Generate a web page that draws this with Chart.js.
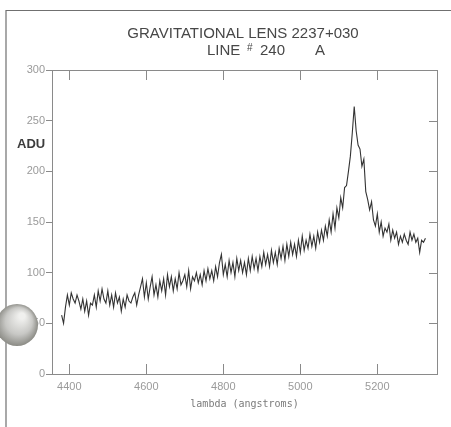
<!DOCTYPE html>
<html>
<head>
<meta charset="utf-8">
<script src="https://cdn.jsdelivr.net/npm/chart.js@4"></script>
<style>
  html, body { margin: 0; padding: 0; background: #ffffff; }
  canvas { display: block; }
</style>
</head>
<body>
<canvas id="specChart" width="451" height="427"></canvas>
<script>
// wavelength grid of the spectrum (angstroms)
const lambdaStart = 4380;
const lambdaStep = 5;

// ADU values, one per 5 A from 4380
const adu = [
  58, 50, 66, 78, 68, 80, 74, 70, 78, 72,
  64, 74, 62, 72, 58, 70, 68, 78, 66, 82,
  72, 84, 74, 70, 82, 68, 78, 66, 80, 70,
  76, 62, 74, 66, 78, 72, 70, 76, 80, 68,
  78, 86, 94, 76, 90, 74, 86, 96, 78, 88,
  76, 92, 82, 94, 78, 98, 86, 96, 82, 94,
  84, 100, 88, 92, 98, 86, 102, 84, 96, 92,
  100, 90, 98, 88, 102, 92, 104, 94, 102, 92,
  106, 96, 110, 118, 98, 108, 96, 112, 100, 110,
  96, 114, 102, 112, 100, 110, 98, 114, 102, 116,
  104, 114, 102, 116, 106, 120, 108, 118, 106, 122,
  110, 120, 108, 124, 114, 126, 112, 128, 116, 130,
  118, 128, 116, 132, 120, 136, 122, 132, 124, 138,
  126, 136, 124, 140, 130, 142, 132, 146, 136, 152,
  140, 158, 144, 164, 154, 174, 164, 184, 186, 200,
  215, 238, 264, 240, 226, 222, 205, 212, 180, 172,
  162, 170, 152, 146, 158, 140, 150, 136, 144, 140,
  148, 132, 142, 134, 140, 128, 136, 130, 138, 132,
  128, 140, 132, 138, 130, 134, 120, 132, 130, 134
];

const xTicks = [4400, 4600, 4800, 5000, 5200];
const yTicks = [0, 50, 100, 150, 200, 250, 300];

const titleLine1 = 'GRAVITATIONAL LENS 2237+030';
const yTitle = 'ADU';
const xTitle = 'lambda (angstroms)';

const points = adu.map((v, i) => ({ x: lambdaStart + i * lambdaStep, y: v }));

// box frame with inward ticks, titles and the page decorations
const framePlugin = {
  id: 'frame',
  afterDraw(chart) {
    const c = chart.ctx;
    const a = chart.chartArea;
    const xs = chart.scales.x, ys = chart.scales.y;
    c.save();

    // page edge lines
    c.strokeStyle = '#707070';
    c.lineWidth = 1.2;
    c.beginPath();
    c.moveTo(6, 427); c.lineTo(6, 10.5); c.lineTo(451, 10.5);
    c.stroke();

    // plot box
    c.strokeStyle = '#8a8a8a';
    c.lineWidth = 1;
    c.strokeRect(Math.round(a.left) + 0.5, Math.round(a.top) + 0.5,
                 Math.round(a.right - a.left), Math.round(a.bottom - a.top));

    c.beginPath();
    xTicks.forEach(v => {
      const px = Math.round(xs.getPixelForValue(v)) + 0.5;
      c.moveTo(px, a.top); c.lineTo(px, a.top + 10);
      c.moveTo(px, a.bottom); c.lineTo(px, a.bottom - 10);
    });
    yTicks.slice(1, -1).forEach(v => {
      const py = Math.round(ys.getPixelForValue(v)) + 0.5;
      c.moveTo(a.right, py); c.lineTo(a.right - 8, py);
    });
    c.stroke();

    // titles
    c.fillStyle = '#474747';
    c.textBaseline = 'middle';
    c.textAlign = 'center';
    c.font = '15px "Liberation Sans", Arial, sans-serif';
    c.fillText(titleLine1, 243, 34);
    c.textAlign = 'left';
    c.fillText('LINE', 207, 51);
    c.fillText('240', 260, 51);
    c.fillText('A', 315, 51);
    c.font = '10px "Liberation Sans", Arial, sans-serif';
    c.fillText('#', 247, 48);

    c.font = 'bold 13px "Liberation Sans", Arial, sans-serif';
    c.fillStyle = '#3c3c3c';
    c.fillText(yTitle, 17, 144);

    // the punched-hole shadow at the left edge
    const g = c.createRadialGradient(22, 316, 3, 16, 326, 24);
    g.addColorStop(0, '#f0f0ee');
    g.addColorStop(0.5, '#c8c8c5');
    g.addColorStop(1, '#76766f');
    c.fillStyle = g;
    c.beginPath();
    c.arc(17, 325, 21, 0, Math.PI * 2);
    c.fill();

    c.restore();
  }
};

const ctx = document.getElementById('specChart').getContext('2d');
new Chart(ctx, {
  type: 'line',
  data: {
    datasets: [{
      data: points,
      borderColor: '#333333',
      borderWidth: 1.1,
      pointRadius: 0,
      tension: 0,
      fill: false
    }]
  },
  options: {
    responsive: false,
    animation: false,
    layout: { padding: { top: 70, right: 14, left: 0, bottom: 0 } },
    plugins: {
      legend: { display: false },
      tooltip: { enabled: false },
      title: { display: false }
    },
    scales: {
      x: {
        type: 'linear',
        min: 4355,
        max: 5355,
        afterBuildTicks: s => { s.ticks = xTicks.map(v => ({ value: v })); },
        afterFit: s => { s.height = 53; },
        grid: { display: false, drawTicks: false },
        border: { display: false },
        ticks: {
          padding: 6,
          autoSkip: false,
          maxRotation: 0,
          color: '#9a9a9a',
          font: { family: '"Liberation Sans", Arial, sans-serif', size: 11 },
          callback: v => String(v)
        },
        title: {
          display: true,
          text: xTitle,
          color: '#7a7a7a',
          font: { family: '"DejaVu Sans Mono", monospace', size: 10 },
          padding: { top: 0, bottom: 17 }
        }
      },
      y: {
        min: 0,
        max: 300,
        afterBuildTicks: s => { s.ticks = yTicks.map(v => ({ value: v })); },
        afterFit: s => { s.width = 52; },
        grid: { drawOnChartArea: false, drawTicks: true, tickLength: 6, color: '#8a8a8a' },
        border: { display: false },
        ticks: {
          padding: 1,
          color: '#9a9a9a',
          font: { family: '"Liberation Sans", Arial, sans-serif', size: 11 },
          callback: v => String(v)
        }
      }
    }
  },
  plugins: [framePlugin]
});
</script>
</body>
</html>
